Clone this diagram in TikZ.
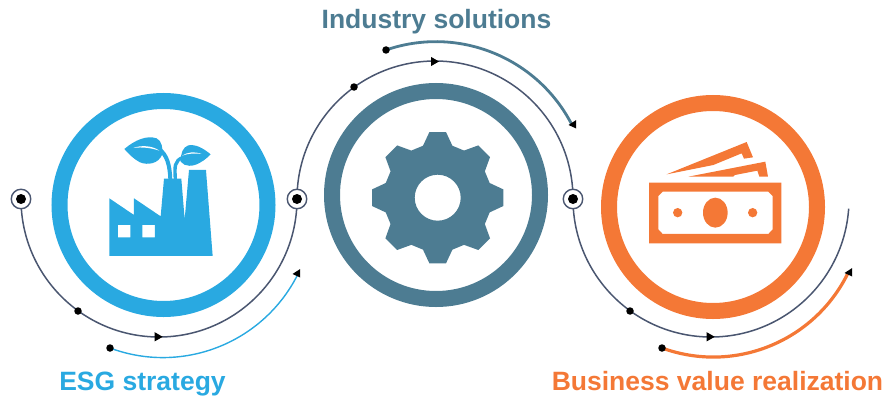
\documentclass[tikz,border=0pt]{standalone}
\usepackage{fontspec}
\setmainfont{Liberation Sans}
\definecolor{cblue}{HTML}{29A9E1}
\definecolor{cteal}{HTML}{4D7C92}
\definecolor{corange}{HTML}{F47836}
\definecolor{cline}{HTML}{4A5670}
\newcommand{\tipleft}[1]{\fill[black] (#1) +(-4,-0.5) -- +(3.7,-5.5) -- +(3.7,3) -- cycle;}
\newcommand{\tipright}[1]{\fill[black] (#1) +(-4,-4.6) -- +(-4,4.6) -- +(4,0) -- cycle;}
\tikzset{
  ring/.style={circle,draw=#1,line width=16pt,minimum size=208pt,inner sep=0pt,outer sep=0pt},
  thinarc/.style={draw=cline,line width=1.5pt},
  dotn/.style={circle,fill=black,minimum size=7.5pt,inner sep=0pt,outer sep=0pt},
  target/.style={circle,fill=white,draw=cline,line width=1.4pt,minimum size=19.5pt,inner sep=0pt},
  targetdot/.style={circle,fill=black,minimum size=10pt,inner sep=0pt},
  label/.style={font=\fontsize{26.5pt}{30pt}\selectfont\bfseries,anchor=base,inner sep=0pt}
}
\begin{document}
\begin{tikzpicture}[x=1pt,y=-1pt]
\useasboundingbox (0,0) rectangle (885,396);
% rings
\node[ring=cblue] (ringA) at (163.5,205) {};
\node[ring=cteal] (ringB) at (436,195) {};
\node[ring=corange] (ringC) at (713,207) {};
% anchor coordinates
\coordinate (t1) at (21,199);
\coordinate (t2) at (297,199);
\coordinate (t3) at (573,199);
% thin arcs
\draw[thinarc] (t1) arc[start angle=180,end angle=0,radius=138];
\draw[thinarc] (t2) arc[start angle=180,end angle=360,radius=138];
\draw[thinarc] (t3) arc[start angle=180,end angle=4,radius=138];
% outer arcs
\coordinate (oA) at (110,348);
\coordinate (oB) at (386,50);
\coordinate (oC) at (662,348);
\draw[cblue,line width=1.4pt] (oA) arc[start angle=110.5,end angle=27,radius=151];
\draw[cteal,line width=2.8pt] (oB) arc[start angle=251,end angle=333,radius=153];
\draw[corange,line width=3.2pt] (oC) arc[start angle=110,end angle=26,radius=150];
% dots
\node[dotn] (dA) at (oA) {};
\node[dotn] (dB) at (oB) {};
\node[dotn] (dC) at (oC) {};
\node[dotn] (a1) at (78,311) {};
\node[dotn] (a2) at (354,87) {};
\node[dotn] (a3) at (630,311) {};
% targets
\foreach \t in {t1,t2,t3}{
  \node[target] (n\t) at (\t) {};
  \node[targetdot] (m\t) at (\t) {};
}
% arrow tips
\tipright{158.7,336.8}
\tipright{435,61.5}
\tipright{710.7,336.8}
\tipleft{296.5,274.5}
\tipleft{572.5,125.5}
\tipleft{848.5,273.5}
% factory
\begin{scope}[shift={(90,120)},x=0.3333pt,y=-0.3333pt]
\fill[cblue,even odd rule] (58,235) -- (132,285) -- (132,235) -- (212,289) -- (222,176) -- (274,176) -- (284,298) -- (297,150) -- (348,150) -- (368,408) -- (58,408) -- cycle
  (84,315) rectangle (121,352) (157,315) rectangle (195,352);
% stems
\draw[cblue,line width=4pt] (241,178) .. controls (239,135) and (232,105) .. (205,85);
\draw[cblue,line width=3.4pt] (256,178) .. controls (254,140) and (252,122) .. (280,112);
% left leaf
\fill[cblue] (103,87) .. controls (135,60) and (170,45) .. (200,55) .. controls (215,62) and (220,85) .. (216,105) .. controls (205,130) and (175,137) .. (150,127) .. controls (130,117) and (115,100) .. (103,87) -- cycle;
\fill[white] (130,84) .. controls (155,74) and (190,78) .. (208,92) .. controls (185,84) and (155,80) .. (130,84) -- cycle;
% right leaf
\fill[cblue] (362,103) .. controls (340,85) and (318,72) .. (295,76) .. controls (278,82) and (272,100) .. (272,125) .. controls (285,142) and (310,140) .. (330,128) .. controls (345,120) and (355,110) .. (362,103) -- cycle;
\fill[white] (276,107) .. controls (290,97) and (315,93) .. (335,102) .. controls (315,99) and (295,100) .. (276,107) -- cycle;
\end{scope}
% gear
\begin{scope}[shift={(437.7,197.7)}]
\fill[cteal,even odd rule] (-7.2:66.2) \foreach \k [evaluate=\k as \a using 45*\k] in {0,...,7} {
  -- (\a-7.2:66.2) -- (\a+7.2:66.2) -- (\a+15.8:54) -- (\a+29.2:54)
} -- cycle (0,0) circle[radius=23];
\end{scope}
% money
\begin{scope}[shift={(640,130)},x=0.3333pt,y=-0.3333pt]
\fill[corange,even odd rule] (27,158) rectangle (424,340)
  (68,185) -- (385,185) -- (398,198) -- (398,298) -- (385,312) -- (68,312) -- (55,298) -- (55,198) -- cycle;
\fill[corange] (226,248) ellipse[x radius=37,y radius=45];
\fill[corange] (113,248) circle[radius=14];
\fill[corange] (338,248) circle[radius=14];
\fill[corange] (80,133) -- (320,36) -- (339,82) -- (312,86) -- (305,70) -- (220,105) -- cycle;
\fill[corange] (145,140) -- (376,95) -- (384,140) -- (358,140) -- (352,122) -- (285,135) -- (280,140) -- cycle;
\end{scope}
% labels
\node[label,text=cteal] (lB) at (436.5,29) {Industry solutions};
\node[label,text=cblue] (lA) at (142.5,390) {ESG strategy};
\node[label,text=corange] (lC) at (717.5,390) {Business value realization};
\end{tikzpicture}
\end{document}
